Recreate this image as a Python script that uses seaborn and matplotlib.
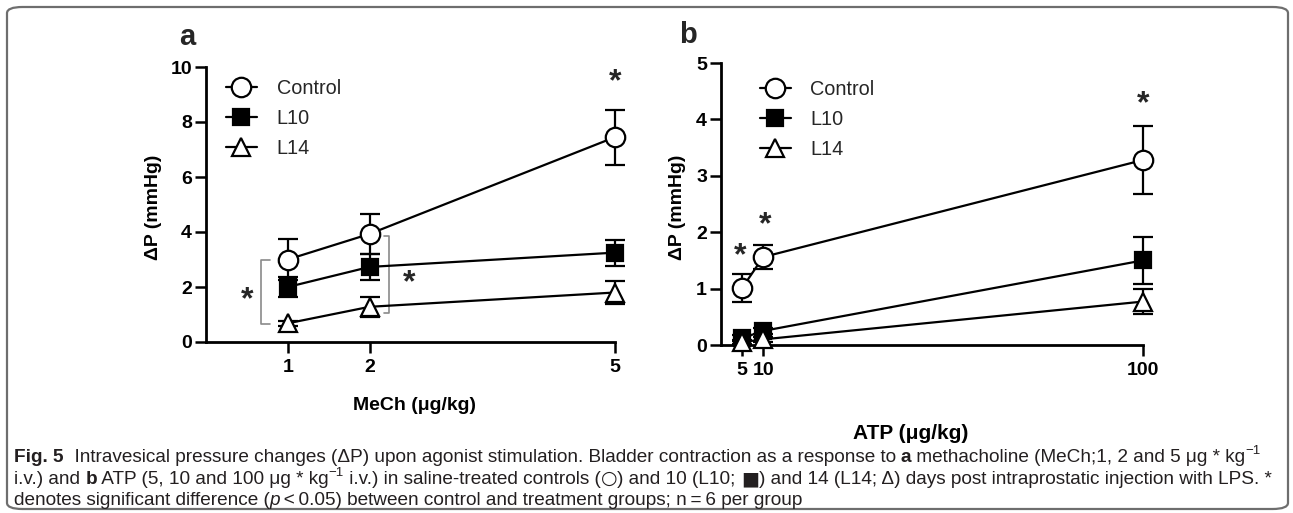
import numpy as np
import pandas as pd
import matplotlib
matplotlib.use("Agg")
import matplotlib.pyplot as plt
import seaborn as sns
from matplotlib.lines import Line2D
from matplotlib.patches import FancyBboxPatch

# ---------------- data ----------------
groups = ["Control", "L10", "L14"]

mech_dose = [1, 2, 5]
mech_control = [3.0, 3.93, 7.45]
mech_control_err = [0.75, 0.72, 1.0]
mech_l10 = [2.0, 2.73, 3.25]
mech_l10_err = [0.37, 0.47, 0.47]
mech_l14 = [0.68, 1.28, 1.8]
mech_l14_err = [0.1, 0.37, 0.42]

atp_dose = [5, 10, 100]
atp_control = [1.01, 1.56, 3.28]
atp_control_err = [0.25, 0.21, 0.6]
atp_l10 = [0.12, 0.25, 1.5]
atp_l10_err = [0.05, 0.06, 0.42]
atp_l14 = [0.05, 0.1, 0.77]
atp_l14_err = [0.03, 0.04, 0.22]

mech_ticks = [1, 2, 5]
atp_ticks = [5, 10, 100]

# ---------------- style ----------------
sns.set_theme(style="ticks")
plt.rcParams["font.family"] = ["Liberation Sans", "DejaVu Sans"]
cap_family = ["Liberation Sans", "DejaVu Sans"]

W, H = 1293, 513
fig = plt.figure(figsize=(W / 100, H / 100), dpi=100)


def px_rect(x0, y0, x1, y1):
    return [x0 / W, 1 - y1 / H, (x1 - x0) / W, (y1 - y0) / H]


axA = fig.add_axes(px_rect(206, 67, 615, 342))
axB = fig.add_axes(px_rect(721, 63, 1143, 345))

styles = {
    "Control": dict(marker="o", markerfacecolor="white", markersize=14),
    "L10": dict(marker="s", markerfacecolor="black", markersize=11),
    "L14": dict(marker="^", markerfacecolor="white", markersize=13),
}


def draw_panel(ax, dose, series, errs):
    for g, vals, err in zip(groups, series, errs):
        df = pd.DataFrame({"dose": dose, "dp": vals})
        ax.errorbar(dose, vals, yerr=err, fmt="none", ecolor="black",
                    elinewidth=1.6, capsize=7, capthick=1.6, zorder=2, clip_on=False)
        sns.lineplot(data=df, x="dose", y="dp", ax=ax, color="black", linewidth=1.6,
                     markeredgecolor="black", markeredgewidth=1.6, zorder=3,
                     clip_on=False, **styles[g])


draw_panel(axA, mech_dose, [mech_control, mech_l10, mech_l14],
           [mech_control_err, mech_l10_err, mech_l14_err])
draw_panel(axB, atp_dose, [atp_control, atp_l10, atp_l14],
           [atp_control_err, atp_l10_err, atp_l14_err])

for ax, xlim, ylim, xt, yt, xl in [
    (axA, (0, 5), (0, 10), mech_ticks, [0, 2, 4, 6, 8, 10], "MeCh (\u03bcg/kg)"),
    (axB, (0, 100), (0, 5), atp_ticks, [0, 1, 2, 3, 4, 5], "ATP (\u03bcg/kg)"),
]:
    ax.set_xlim(*xlim)
    ax.set_ylim(*ylim)
    ax.set_xticks(xt)
    ax.set_yticks(yt)
    ax.set_xticklabels([str(t) for t in xt], fontsize=14, fontweight="bold")
    ax.set_yticklabels([str(t) for t in yt], fontsize=14, fontweight="bold")
    ax.tick_params(axis="both", length=8, width=1.8, color="black", pad=2, labelcolor="black")
    ax.tick_params(axis="x", pad=4)
    for s in ["left", "bottom"]:
        ax.spines[s].set_linewidth(2.0)
        ax.spines[s].set_color("black")
    sns.despine(ax=ax)
    ax.set_facecolor("none")
    ax.set_ylabel("\u0394P (mmHg)", fontsize=14, fontweight="bold", color="black")
    ax.set_xlabel(xl, fontsize=14, fontweight="bold", color="black")

axA.yaxis.set_label_coords(-0.108, 0.49)
axB.yaxis.set_label_coords(-0.083, 0.49)
axA.xaxis.set_label_coords(0.51, -0.20)
axB.xaxis.set_label_coords(0.45, -0.28)
axB.xaxis.label.set_fontsize(15)

# legends
for ax, anchor in [(axA, (0.049, 0.955)), (axB, (0.092, 0.94))]:
    handles = [Line2D([], [], color="black", lw=1.6, markeredgecolor="black",
                      markeredgewidth=1.6, **styles[g]) for g in groups]
    ax.legend(handles, groups, loc="upper left", bbox_to_anchor=anchor, frameon=False,
              fontsize=14.3, handlelength=1.55, handletextpad=1.0, labelspacing=0.55,
              borderpad=0, borderaxespad=0, numpoints=1)

# significance brackets (panel a)
br = "#8a8a8a"
axA.plot([0.78, 0.67, 0.67, 0.78], [3.0, 3.0, 0.65, 0.65], color=br, lw=1.2, clip_on=False)
axA.plot([2.17, 2.24, 2.24, 2.17], [3.85, 3.85, 1.05, 1.05], color=br, lw=1.2, clip_on=False)

star_kw = dict(fontsize=23, fontweight="bold", ha="center", va="center")
for ax, pts in [(axA, [(0.5, 1.5), (2.48, 2.15), (5, 9.45)]),
                (axB, [(4.5, 1.57), (10.4, 2.12), (100, 4.27)])]:
    for x, y in pts:
        ax.text(x, y, "*", clip_on=False, **star_kw)

# panel labels
fig.text(187 / W, 1 - 37 / H, "a", fontsize=21, fontweight="bold", ha="center", va="center")
fig.text(688 / W, 1 - 35 / H, "b", fontsize=21, fontweight="bold", ha="center", va="center")

# frame
frame = FancyBboxPatch((7 / W, 4 / H), (W - 12) / W, (H - 11) / H,
                       boxstyle="round,pad=0,rounding_size=0.012",
                       transform=fig.transFigure, fill=False, edgecolor="#6e6e6e", lw=1.6)
fig.add_artist(frame)

# caption (rich text)
renderer = fig.canvas.get_renderer()

line1 = [("Fig. 5", "b"),
         ("  Intravesical pressure changes (\u0394P) upon agonist stimulation. Bladder contraction as a response to ", ""),
         ("a", "b"),
         (" methacholine (MeCh;1, 2 and 5 \u03bcg * kg", ""),
         ("\u22121", "sup")]
line2 = [("i.v.) and ", ""), ("b", "b"),
         (" ATP (5, 10 and 100 \u03bcg * kg", ""), ("\u22121", "sup"),
         (" i.v.) in saline-treated controls (", ""), ("\u25cb", "sym"),
         (") and 10 (L10; ", ""), ("\u25a0", "sym"),
         (") and 14 (L14; \u0394) days post intraprostatic injection with LPS. *", "")]
line3 = [("denotes significant difference (", ""), ("p", "i"),
         ("\u2009<\u20090.05) between control and treatment groups; n\u2009=\u20096 per group", "")]


def rich_line(x_px, y_px, segs, size, keep=True):
    x = x_px
    made = []
    for txt, opt in segs:
        kw = dict(fontsize=size, family=cap_family, color="#231f20", va="baseline", ha="left")
        dy = 0
        if opt == "b":
            kw["fontweight"] = "bold"
        elif opt == "i":
            kw["fontstyle"] = "italic"
        elif opt == "sup":
            kw["fontsize"] = size * 0.7
            dy = -0.55 * size
        elif opt == "sym":
            kw["family"] = ["DejaVu Sans"]
        t = fig.text(x / W, 1 - (y_px + dy) / H, txt, **kw)
        x += t.get_window_extent(renderer).width
        made.append(t)
    if not keep:
        for t in made:
            t.remove()
    return x - x_px


base = 10.0
w1 = rich_line(14, 460, line1, base, keep=False)
cap_size = base * (1268 - 14) / w1

rich_line(14, 462, line1, cap_size)
rich_line(14, 484, line2, cap_size)
rich_line(14, 505, line3, cap_size)

fig.savefig("out.png", dpi=100)
